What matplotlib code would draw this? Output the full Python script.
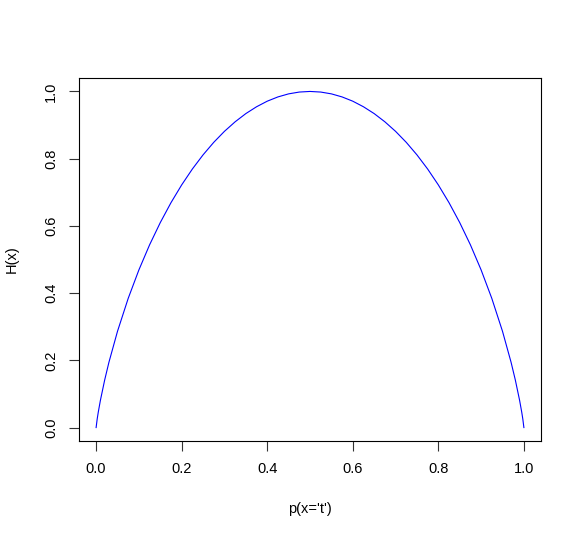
import matplotlib
matplotlib.use("Agg")
import matplotlib.pyplot as plt

# p values (left half) and entropy; right half mirrors it
p_left = [0.0, 0.0025, 0.005, 0.01, 0.02, 0.03, 0.05, 0.075, 0.1, 0.125, 0.15, 0.175,
          0.2, 0.225, 0.25, 0.275, 0.3, 0.325, 0.35, 0.375, 0.4, 0.425, 0.45, 0.475, 0.5]
h_left = [0.0, 0.0252, 0.0454, 0.0808, 0.1414, 0.1944, 0.2864, 0.3843, 0.4690, 0.5436,
          0.6098, 0.6690, 0.7219, 0.7692, 0.8113, 0.8486, 0.8813, 0.9097, 0.9341, 0.9544,
          0.9710, 0.9837, 0.9928, 0.9982, 1.0]
p_vals = p_left + [round(1 - v, 4) for v in reversed(p_left[:-1])]
h_vals = h_left + list(reversed(h_left[:-1]))

xticks = [0.0, 0.2, 0.4, 0.6, 0.8, 1.0]
yticks = [0.0, 0.2, 0.4, 0.6, 0.8, 1.0]

plt.rcParams['font.family'] = ['Liberation Sans', 'DejaVu Sans']

fig = plt.figure(figsize=(5.81, 5.39), dpi=100)
ax = fig.add_axes([79/581, 1 - 441/539, (541-79)/581, (441-78)/539])
ax.plot(p_vals, h_vals, color='blue', lw=0.8)
ax.set_xlim(-0.04, 1.04)
ax.set_ylim(-0.04, 1.04)
ax.set_xticks(xticks)
ax.set_yticks(yticks)
ax.set_xticklabels([f"{v:.1f}" for v in xticks])
ax.set_yticklabels([f"{v:.1f}" for v in yticks], rotation=90, va='center')
ax.tick_params(direction='out', length=7, width=0.8, labelsize=10.5, pad=8, color='#333333')
for s in ax.spines.values():
    s.set_linewidth(0.8)
ax.set_xlabel("p(x='t')", fontsize=10.5, labelpad=19)
ax.set_ylabel("H(x)", fontsize=10.5, labelpad=18)
fig.savefig("out.png", dpi=100)
